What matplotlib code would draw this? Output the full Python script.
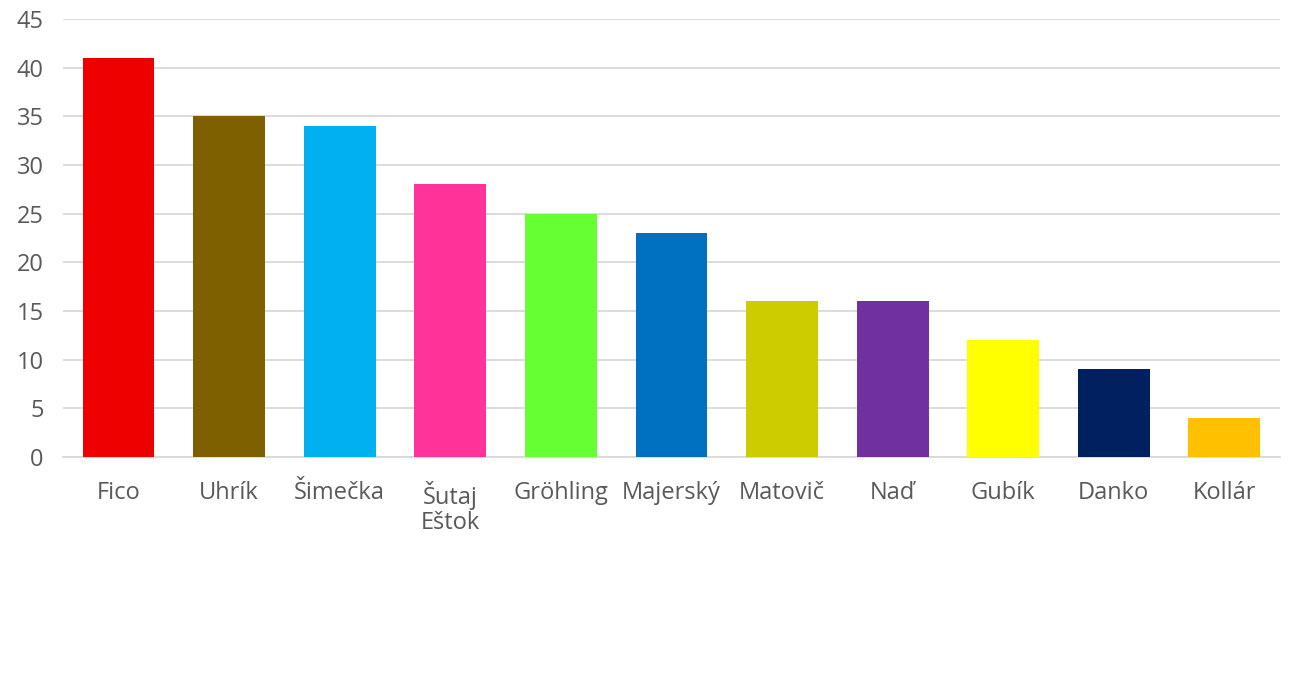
import matplotlib
matplotlib.use('Agg')
import matplotlib.pyplot as plt

names = ['Fico', 'Uhrík', 'Šimečka', 'Šutaj\nEštok', 'Gröhling', 'Majerský',
         'Matovič', 'Naď', 'Gubík', 'Danko', 'Kollár']
values = [41, 35, 34, 28, 25, 23, 16, 16, 12, 9, 4]
colors = ['#EE0000', '#7F6000', '#00B0F0', '#FF3399', '#66FF33', '#0070C0',
          '#CCCC00', '#7030A0', '#FFFF00', '#002060', '#FFC000']
yticks = [0, 5, 10, 15, 20, 25, 30, 35, 40, 45]

plt.rcParams['font.family'] = ['Open Sans', 'DejaVu Sans']

fig = plt.figure(figsize=(12.9, 6.79), dpi=100)
ax = fig.add_axes([0.049, 0.327, 0.943, 0.645])

x = range(len(names))
ax.bar(x, values, width=0.65, color=colors, zorder=3)

ax.set_xlim(-0.5, len(names) - 0.5)
ax.set_ylim(0, 45)
ax.set_yticks(yticks)
ax.set_xticks(list(x))
ax.set_xticklabels(names, fontsize=17, color='#595959', linespacing=1.1,
                   va='top')
ax.tick_params(axis='y', labelsize=17, labelcolor='#595959', length=0, pad=14)
ax.tick_params(axis='x', length=0, pad=17)

ax.grid(axis='y', color='#D9D9D9', linewidth=1.3, zorder=0)
for s in ['top', 'right', 'left']:
    ax.spines[s].set_visible(False)
ax.spines['bottom'].set_color('#D9D9D9')
ax.spines['bottom'].set_linewidth(1.3)

fig.savefig('out.png', dpi=100)
